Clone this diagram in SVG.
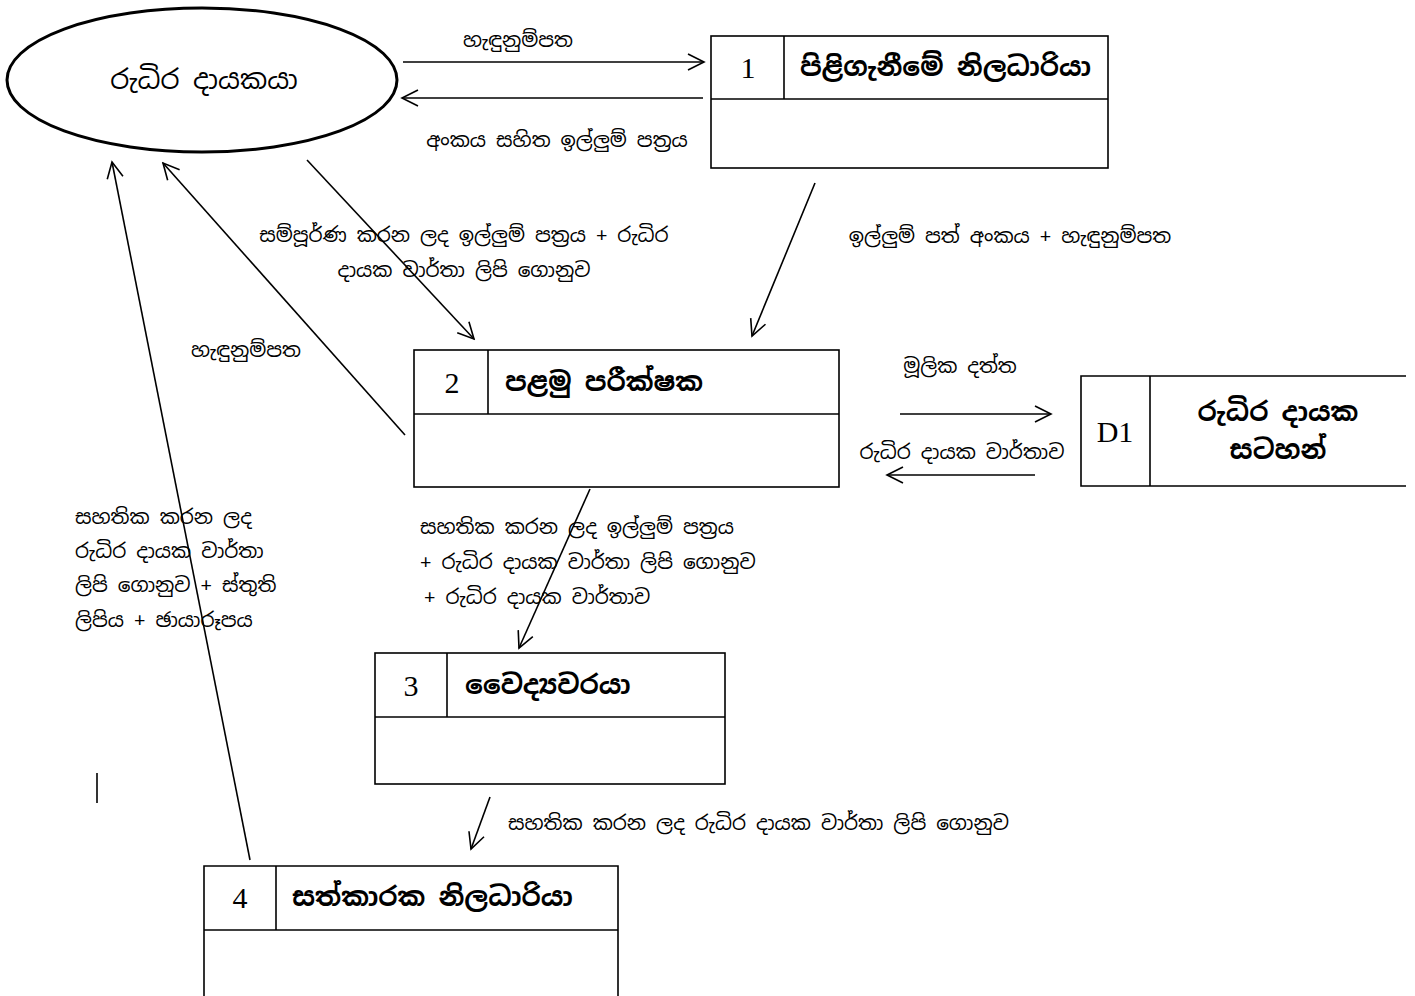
<svg xmlns="http://www.w3.org/2000/svg" width="1415" height="996" viewBox="0 0 1415 996">
<defs>
<marker id="arr" viewBox="0 0 20 20" refX="18" refY="10" markerWidth="20" markerHeight="20" markerUnits="userSpaceOnUse" orient="auto">
<path d="M2,2 L18,10 L2,18" fill="none" stroke="#000" stroke-width="1.6"/>
</marker>
<style>
.box{fill:#fff;stroke:#000;stroke-width:1.6}
.ln{stroke:#000;stroke-width:1.6;fill:none}
.num{font-family:"Liberation Serif",serif;font-size:30px;fill:#000}
.title{font-family:"Noto Sans Sinhala","Iskoola Pota","Noto Sans",sans-serif;font-size:26.5px;font-weight:bold;fill:#000}
.lbl{font-family:"Noto Sans Sinhala","Iskoola Pota","Noto Sans",sans-serif;font-size:20px;fill:#000}
.conn line{stroke:#000;stroke-width:1.6;marker-end:url(#arr)}
</style>
</defs>
<rect width="1415" height="996" fill="#fff"/>

<g id="ext-donor">
<ellipse cx="202" cy="80" rx="195" ry="72" fill="#fff" stroke="#000" stroke-width="3"/>
<text x="204" y="89" text-anchor="middle" font-family="'Noto Sans Sinhala','Iskoola Pota','Noto Sans',sans-serif" font-size="27">රුධිර දායකයා</text>
</g>

<g id="p1">
<rect class="box" x="711" y="36" width="397" height="132"/>
<line class="ln" x1="711" y1="99" x2="1108" y2="99"/>
<line class="ln" x1="784" y1="36" x2="784" y2="99"/>
<text class="num" x="748" y="78" text-anchor="middle">1</text>
<text class="title" x="800" y="76">පිළිගැනීමේ නිලධාරියා</text>
</g>

<g id="p2">
<rect class="box" x="414" y="350" width="425" height="137"/>
<line class="ln" x1="414" y1="414" x2="839" y2="414"/>
<line class="ln" x1="488" y1="350" x2="488" y2="414"/>
<text class="num" x="452" y="393" text-anchor="middle">2</text>
<text class="title" x="505" y="391">පළමු පරීක්ෂක</text>
</g>

<g id="d1">
<path class="ln" d="M1406,376 L1081,376 L1081,486 L1406,486"/>
<line class="ln" x1="1150" y1="376" x2="1150" y2="486"/>
<text class="num" x="1115" y="442" text-anchor="middle">D1</text>
<text class="title" x="1278" y="421" text-anchor="middle">රුධිර දායක</text>
<text class="title" x="1278" y="459" text-anchor="middle">සටහන්</text>
</g>

<g id="p3">
<rect class="box" x="375" y="653" width="350" height="131"/>
<line class="ln" x1="375" y1="717" x2="725" y2="717"/>
<line class="ln" x1="447" y1="653" x2="447" y2="717"/>
<text class="num" x="411" y="696" text-anchor="middle">3</text>
<text class="title" x="465" y="694">වෛද්‍යවරයා</text>
</g>

<g id="p4">
<path class="ln" d="M204,996 L204,866 L618,866 L618,996"/>
<line class="ln" x1="204" y1="930" x2="618" y2="930"/>
<line class="ln" x1="276" y1="866" x2="276" y2="930"/>
<text class="num" x="240" y="908" text-anchor="middle">4</text>
<text class="title" x="292" y="906">සත්කාරක නිලධාරියා</text>
</g>

<g id="connectors" class="conn">
<line x1="403" y1="62" x2="704" y2="62"/>
<line x1="703" y1="98" x2="402" y2="98"/>
<line x1="307" y1="160" x2="474" y2="339"/>
<line x1="405" y1="435" x2="163" y2="163"/>
<line x1="815" y1="183" x2="752" y2="336"/>
<line x1="900" y1="414" x2="1051" y2="414"/>
<line x1="1035" y1="475" x2="887" y2="475"/>
<line x1="590" y1="489" x2="519" y2="648"/>
<line x1="490" y1="797" x2="471" y2="849"/>
<line x1="250" y1="860" x2="112" y2="162"/>
</g>

<g id="labels" class="lbl">
<text class="lbl" x="518" y="47" text-anchor="middle">හැඳුනුම්පත</text>
<text class="lbl" x="557" y="147" text-anchor="middle">අංකය සහිත ඉල්ලුම් පත්‍රය</text>
<text class="lbl" x="464" y="242" text-anchor="middle">සම්පූර්ණ  කරන ලද ඉල්ලුම්  පත්‍රය + රුධිර</text>
<text class="lbl" x="464" y="277" text-anchor="middle">දායක වාර්තා ලිපි ගොනුව</text>
<text class="lbl" x="246" y="357" text-anchor="middle">හැඳුනුම්පත</text>
<text class="lbl" x="1010" y="243" text-anchor="middle">ඉල්ලුම් පත් අංකය +  හැඳුනුම්පත</text>
<text class="lbl" x="960" y="373" text-anchor="middle">මූලික දත්ත</text>
<text class="lbl" x="962" y="459" text-anchor="middle">රුධිර දායක වාර්තාව</text>
<text class="lbl" x="75" y="524">සහතික කරන ලද</text>
<text class="lbl" x="75" y="558">රුධිර දායක වාර්තා</text>
<text class="lbl" x="75" y="592">ලිපි ගොනුව + ස්තුති</text>
<text class="lbl" x="75" y="627">ලිපිය +  ඡායාරූපය</text>
<text class="lbl" x="420" y="534">සහතික කරන ලද ඉල්ලුම් පත්‍රය</text>
<text class="lbl" x="420" y="569">+ රුධිර දායක වාර්තා ලිපි ගොනුව</text>
<text class="lbl" x="424" y="604">+ රුධිර දායක වාර්තාව</text>
<text class="lbl" x="508" y="830">සහතික කරන ලද රුධිර දායක වාර්තා ලිපි ගොනුව</text>
</g>

<line class="ln" x1="97" y1="773" x2="97" y2="803"/>
</svg>
